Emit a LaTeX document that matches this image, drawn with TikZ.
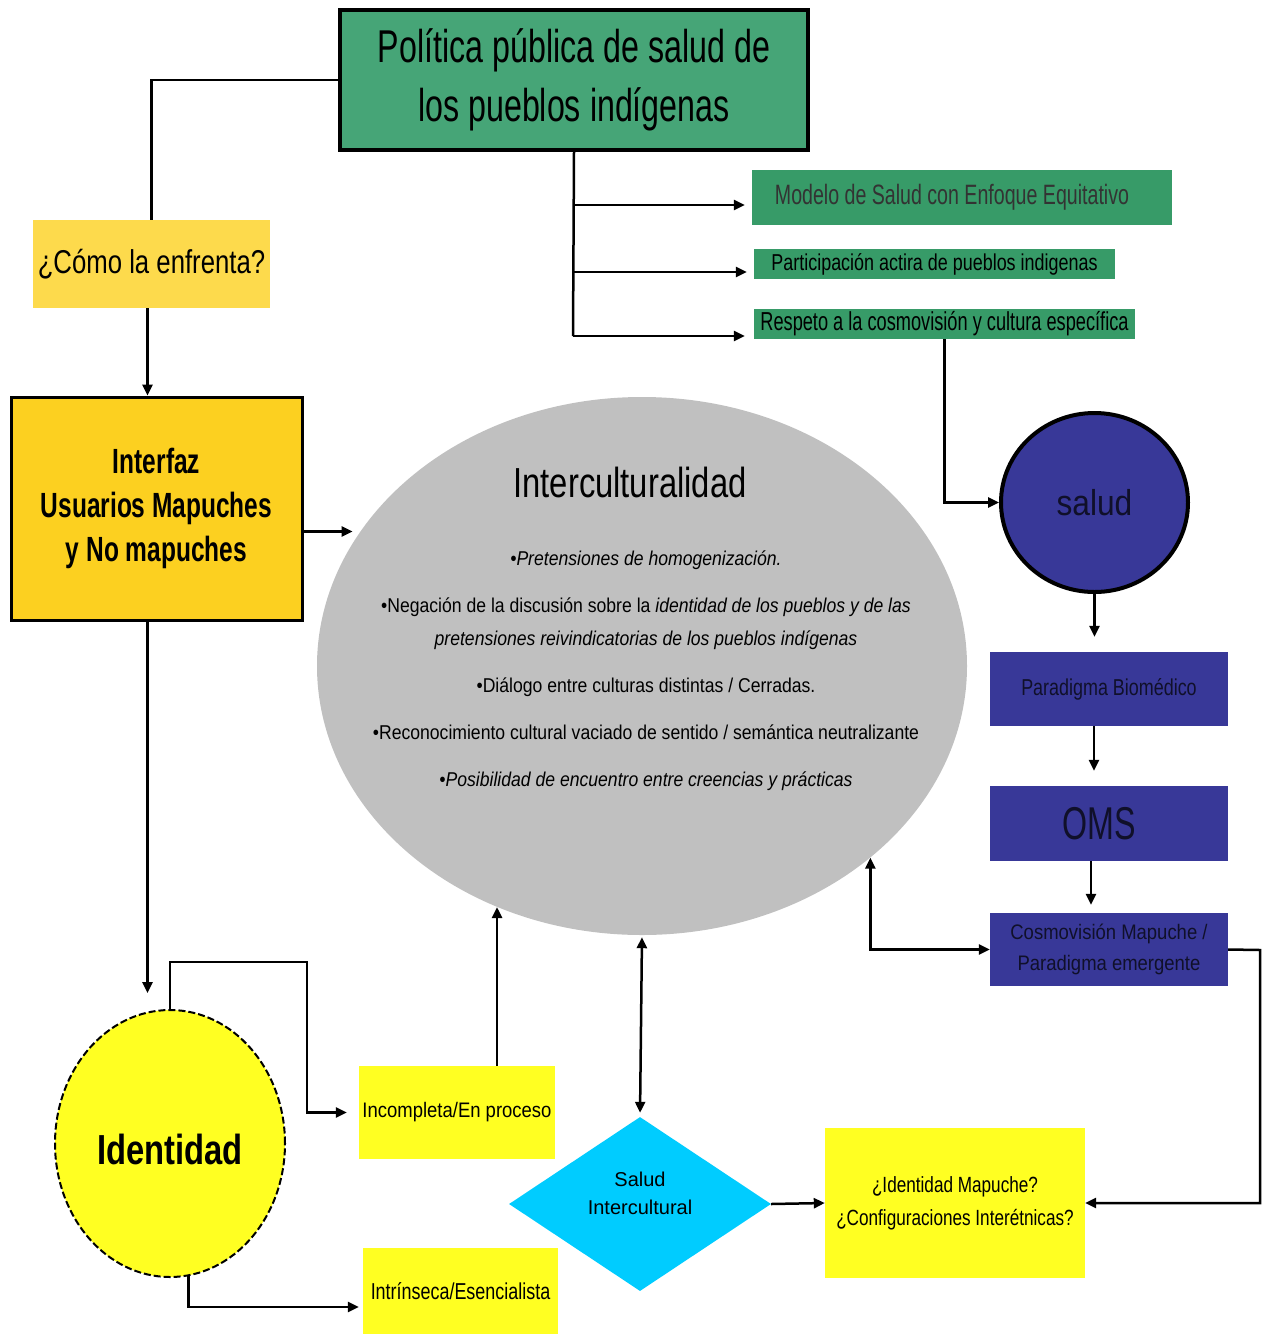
\documentclass[tikz,border=0pt]{standalone}
\usepackage{fontspec}
\setmainfont{Liberation Sans}
\newfontfamily\narrowA[FakeStretch=0.70]{Liberation Sans}
\newfontfamily\narrowB[FakeStretch=0.78]{Liberation Sans}
\newfontfamily\narrowC[FakeStretch=0.88]{Liberation Sans}
\usetikzlibrary{arrows.meta, shapes.geometric}
\definecolor{titgreen}{HTML}{46A577}
\definecolor{boxgreen}{HTML}{379B68}
\definecolor{paleyel}{HTML}{FDDA4C}
\definecolor{gold}{HTML}{FCD020}
\definecolor{lemon}{HTML}{FFFF22}
\definecolor{navy}{HTML}{383898}
\definecolor{cyanfill}{HTML}{00CCFF}
\definecolor{ellgray}{HTML}{C0C0C0}
\definecolor{ink}{HTML}{10102A}

\begin{document}
\begin{tikzpicture}[x=1pt, y=-1pt,
    every node/.style={inner sep=0pt, align=center},
    arr/.style={-{Triangle[length=11pt,width=10pt]}, line width=2.5pt},
    dbl/.style={{Triangle[length=11pt,width=10pt]}-{Triangle[length=11pt,width=10pt]}, line width=2.5pt}]
    \useasboundingbox (0,0) rectangle (1263,1334);
    % upper part
    \node[draw, line width=4pt, fill=titgreen, minimum width=468pt, minimum height=140pt,
      font=\narrowA\fontsize{46}{59}\selectfont] (tit) at (574,80) {Política pública de salud de\\los pueblos indígenas};
    \node[fill=paleyel, minimum width=237pt, minimum height=88pt, font=\narrowB\fontsize{33}{40}\selectfont] (como) at (151.5,264) {¿Cómo la enfrenta?};
    \node[draw, line width=3pt, fill=gold, minimum width=291pt, minimum height=223pt,
      font=\narrowA\bfseries\fontsize{35}{44}\selectfont] (interfaz) at (156.5,508.5) {Interfaz\\Usuarios Mapuches\\y No mapuches};
    \node[fill=boxgreen, minimum width=420pt, minimum height=55pt, text=black!80, font=\narrowA\fontsize{28}{34}\selectfont] (modelo) at (962,197.5) {Modelo de Salud con Enfoque Equitativo\hspace{20pt}};
    \node[fill=boxgreen, minimum width=361pt, minimum height=30pt, font=\narrowB\fontsize{23}{26}\selectfont] (partic) at (934.5,264) {Participación actira de pueblos indigenas};
    \node[fill=boxgreen, minimum width=381pt, minimum height=30pt, font=\narrowA\fontsize{26}{30}\selectfont] (respeto) at (944.5,324) {Respeto a la cosmovisión y cultura específica};
    % interculturalidad
    \node[ellipse, fill=ellgray, minimum width=650pt, minimum height=538pt] (inter) at (642,666) {};
    \node[font=\narrowB\fontsize{42}{50}\selectfont] (intertit) at (630,482) {Interculturalidad};
    \node[font=\narrowC\fontsize{20}{33}\selectfont] (interlist) at (646,671) {\itshape •Pretensiones de homogenización.\\[14pt]
      •Negación de la discusión sobre la \itshape identidad de los pueblos y de las\\
      \itshape pretensiones reivindicatorias de los pueblos indígenas\\[14pt]
      •Diálogo entre culturas distintas / Cerradas.\\[14pt]
      •Reconocimiento cultural vaciado de sentido / semántica neutralizante\\[14pt]
      \itshape •Posibilidad de encuentro entre creencias y prácticas};
    % salud column
    \node[ellipse, draw, line width=4pt, fill=navy, minimum width=187pt, minimum height=179pt,
      text=ink, font=\narrowC\fontsize{36}{40}\selectfont] (salud) at (1094.5,502.5) {salud};
    \node[fill=navy, minimum width=238pt, minimum height=74pt, text=ink, font=\narrowB\fontsize{23}{28}\selectfont] (para) at (1109,689) {Paradigma Biomédico};
    \node[fill=navy, minimum width=238pt, minimum height=75pt, text=ink, font=\narrowA\fontsize{46}{50}\selectfont] (oms) at (1109,823.5) {OMS\hspace{20pt}};
    \node[fill=navy, minimum width=238pt, minimum height=73pt, text=ink, font=\narrowC\fontsize{21}{31}\selectfont] (cosmo) at (1109,949.5) {Cosmovisión Mapuche /\\Paradigma emergente};
    % lower part
    \node[ellipse, draw, dashed, dash pattern=on 7pt off 3pt, line width=2pt, fill=lemon, minimum width=230pt, minimum height=267pt,
      font=\narrowB\bfseries\fontsize{42}{50}\selectfont] (iden) at (170,1143.5) {\raisebox{-21pt}[0pt][0pt]{Identidad}};
    \node[fill=lemon, minimum width=196pt, minimum height=93pt, font=\narrowC\fontsize{21}{26}\selectfont] (incomp) at (457,1112.5) {Incompleta/En proceso};
    \node[fill=lemon, minimum width=195pt, minimum height=86pt, font=\narrowB\fontsize{23}{28}\selectfont] (intr) at (460.5,1291) {Intrínseca/Esencialista};
    \node[diamond, fill=cyanfill, minimum width=262pt, minimum height=174pt, font=\fontsize{20}{28}\selectfont] (diam) at (640,1204)
      {\raisebox{4pt}[0pt][0pt]{\begin{tabular}{@{}c@{}}Salud\\Intercultural\end{tabular}}};
    \node[fill=lemon, minimum width=260pt, minimum height=150pt, font=\narrowB\fontsize{22}{33}\selectfont] (idmap) at (955,1203) {¿Identidad Mapuche?\\¿Configuraciones Interétnicas?};
    % connectors
    \coordinate (t1) at (573,205);
    \coordinate (t2) at (573,272);
    \coordinate (t3) at (573,336);
    \coordinate (k1) at (307,962);
    \coordinate (k3) at (1260,950);
    \draw[line width=2.5pt] (tit.west) -| (como.north);
    \draw[arr] ([xshift=-4pt]como.south) -- ([xshift=-4pt]como.south |- interfaz.north);
    \draw[arr, shorten >=6pt] ([yshift=-23pt]interfaz.east) -- ([yshift=-23pt]interfaz.east -| inter.155);
    \draw[arr, shorten >=16pt] ([xshift=-9pt]interfaz.south) -- ([xshift=-9pt]interfaz.south |- iden.north);
    \draw[line width=2.5pt] (tit.south) -- (t3);
    \draw[arr, shorten >=7pt] (t1) -- (t1 -| modelo.west);
    \draw[arr, shorten >=7pt] (t2) -- (t2 -| partic.west);
    \draw[arr, shorten >=9pt] (t3) -- (t3 -| respeto.west);
    \draw[arr] (respeto.south) |- (salud.west);
    \draw[arr, shorten >=15pt] (salud.south) -- (salud.south |- para.north);
    \draw[arr, shorten >=15pt] ([xshift=-15pt]para.south) -- ([xshift=-15pt]oms.north);
    \draw[arr, shorten >=8pt] ([xshift=-18pt]oms.south) -- ([xshift=-18pt]cosmo.north);
    \draw[dbl] (cosmo.west) -| (inter.-40);
    \draw[arr] (cosmo.east) -- (k3) |- (idmap.east);
    \draw[arr, shorten >=12pt] (iden.north) |- (k1) |- (incomp.west);
    \draw[arr, shorten >=4pt] (iden.-82) |- ([yshift=-16pt]intr.west);
    \draw[arr] ([xshift=40pt]incomp.north) -- ([xshift=40pt]incomp.north |- inter.239);
    \draw[dbl, shorten <=2pt, shorten >=4pt] (inter.south) -- (diam.north);
    \draw[arr] (diam.east) -- (idmap.west);
\end{tikzpicture}
\end{document}
